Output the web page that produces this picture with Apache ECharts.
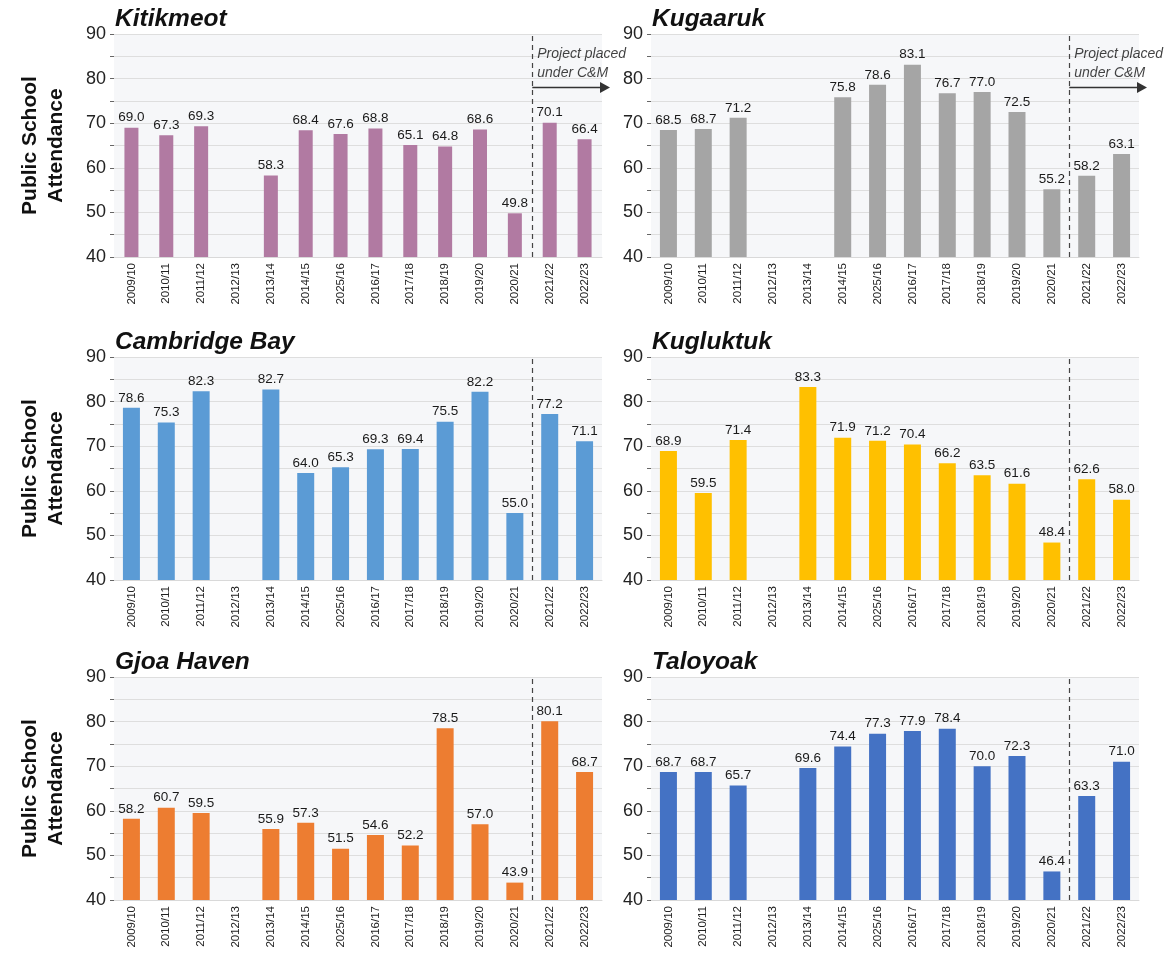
<!DOCTYPE html>
<html><head><meta charset="utf-8">
<script src="https://cdn.jsdelivr.net/npm/echarts@6/dist/echarts.min.js"></script>
<style>html,body{margin:0;padding:0;background:#fff}#c{width:1168px;height:955px}</style>
</head><body><div id="c"></div>
<script>
// ---------- data ----------
const categories = ['2009/10','2010/11','2011/12','2012/13','2013/14','2014/15','2025/16','2016/17','2017/18','2018/19','2019/20','2020/21','2021/22','2022/23'];
const panelNames = ['Kitikmeot','Kugaaruk','Cambridge Bay','Kugluktuk','Gjoa Haven','Taloyoak'];
const kitikmeot    = [69.0, 67.3, 69.3, null, 58.3, 68.4, 67.6, 68.8, 65.1, 64.8, 68.6, 49.8, 70.1, 66.4];
const kugaaruk     = [68.5, 68.7, 71.2, null, null, 75.8, 78.6, 83.1, 76.7, 77.0, 72.5, 55.2, 58.2, 63.1];
const cambridgeBay = [78.6, 75.3, 82.3, null, 82.7, 64.0, 65.3, 69.3, 69.4, 75.5, 82.2, 55.0, 77.2, 71.1];
const kugluktuk    = [68.9, 59.5, 71.4, null, 83.3, 71.9, 71.2, 70.4, 66.2, 63.5, 61.6, 48.4, 62.6, 58.0];
const gjoaHaven    = [58.2, 60.7, 59.5, null, 55.9, 57.3, 51.5, 54.6, 52.2, 78.5, 57.0, 43.9, 80.1, 68.7];
const taloyoak     = [68.7, 68.7, 65.7, null, 69.6, 74.4, 77.3, 77.9, 78.4, 70.0, 72.3, 46.4, 63.3, 71.0];
const yTicks = [40, 50, 60, 70, 80, 90];
const yAxisName = 'Public School\nAttendance';
const annotationText = 'Project placed\nunder C&M';
const careMaintenanceIndex = 12;   // boundary before 2021/22
const annotationTextY = 83.4;
const annotationArrowY = 78;

const panelValues = [kitikmeot, kugaaruk, cambridgeBay, kugluktuk, gjoaHaven, taloyoak];
const panelColors = ['#b17aa2', '#a5a5a5', '#5b9bd5', '#ffc000', '#ed7d31', '#4472c4'];

// ---------- layout ----------
const colLeft = [114, 651];
const rowTop = [34, 357, 677];
const gw = 488, gh = 223;
const FONT = "'Liberation Sans', Arial, sans-serif";

const grids = [], xAxes = [], yAxes = [], series = [], titles = [];
panelValues.forEach((vals, i) => {
  const col = i % 2, row = Math.floor(i / 2);
  grids.push({left: colLeft[col], top: rowTop[row], width: gw, height: gh,
    show: true, backgroundColor: '#f6f7f9', borderWidth: 0, containLabel: false});
  titles.push({text: panelNames[i], left: colLeft[col] - 4, top: rowTop[row] - 32,
    textStyle: {fontFamily: FONT, fontSize: 24.5, fontWeight: 'bold', fontStyle: 'italic', color: '#111'}});
  xAxes.push({type: 'category', gridIndex: i, data: categories,
    axisLine: {show: true, lineStyle: {color: '#d9d9d9'}}, axisTick: {show: false},
    axisLabel: {rotate: 90, interval: 0, fontSize: 11.5, color: '#222', fontFamily: FONT, margin: 6}});
  xAxes.push({type: 'value', gridIndex: i, min: 0, max: categories.length, show: false});
  yAxes.push({type: 'value', gridIndex: i, min: yTicks[0], max: yTicks[yTicks.length - 1], interval: 5,
    name: col === 0 ? yAxisName : '', nameLocation: 'middle', nameGap: 45,
    nameTextStyle: {fontFamily: FONT, fontSize: 21, fontWeight: 'bold', color: '#111', lineHeight: 26},
    axisLine: {show: false}, axisTick: {show: true, length: 4, lineStyle: {color: '#666'}},
    axisLabel: {fontFamily: FONT, fontSize: 18, color: '#222', margin: 8,
      formatter: v => (yTicks.indexOf(v) >= 0 ? String(v) : '')},
    splitLine: {show: true, lineStyle: {color: '#dedede', width: 1}}});
  series.push({type: 'bar', xAxisIndex: 2 * i, yAxisIndex: i, data: vals,
    barWidth: i === 0 ? 14 : 17, itemStyle: {color: panelColors[i]},
    label: {show: true, position: 'top', distance: 3, fontFamily: FONT, fontSize: 13.5, color: '#1a1a1a',
      formatter: p => (p.value == null ? '' : Number(p.value).toFixed(1))}});
  series.push({type: 'scatter', xAxisIndex: 2 * i + 1, yAxisIndex: i, clip: false, silent: true,
    symbolSize: 0, z: 5,
    data: row === 0 ? [[careMaintenanceIndex, annotationTextY]] : [[careMaintenanceIndex, yTicks[0]]],
    label: {show: row === 0, position: 'right', distance: 5, formatter: annotationText,
      fontFamily: "'Liberation Sans Narrow', " + FONT, fontStyle: 'italic', fontSize: 14, color: '#111', lineHeight: 19},
    markLine: {silent: true, symbol: ['none', 'none'], label: {show: false}, animation: false,
      data: [{xAxis: careMaintenanceIndex}], lineStyle: {type: [5, 4], color: '#444', width: 1.2}}});
});

const chart = echarts.init(document.getElementById('c'), null, {renderer: 'canvas'});
chart.setOption({animation: false, backgroundColor: '#fff', title: titles, grid: grids,
  xAxis: xAxes, yAxis: yAxes, series: series});

// arrows "Project placed under C&M" for the top row, positioned through the axes
const graphics = [];
[0, 1].forEach(i => {
  const finder = {xAxisIndex: 2 * i + 1, yAxisIndex: i};
  const p0 = chart.convertToPixel(finder, [careMaintenanceIndex, annotationArrowY]);
  const p1 = chart.convertToPixel(finder, [categories.length, annotationArrowY]);
  const endX = p1[0] + 8, y = p0[1];
  graphics.push({type: 'line', shape: {x1: p0[0], y1: y, x2: endX - 8, y2: y},
    style: {stroke: '#333', lineWidth: 1.5}, silent: true, z: 10});
  graphics.push({type: 'polygon', shape: {points: [[endX, y], [endX - 10, y - 5.5], [endX - 10, y + 5.5]]},
    style: {fill: '#333'}, silent: true, z: 10});
});
chart.setOption({graphic: graphics});
</script></body></html>
